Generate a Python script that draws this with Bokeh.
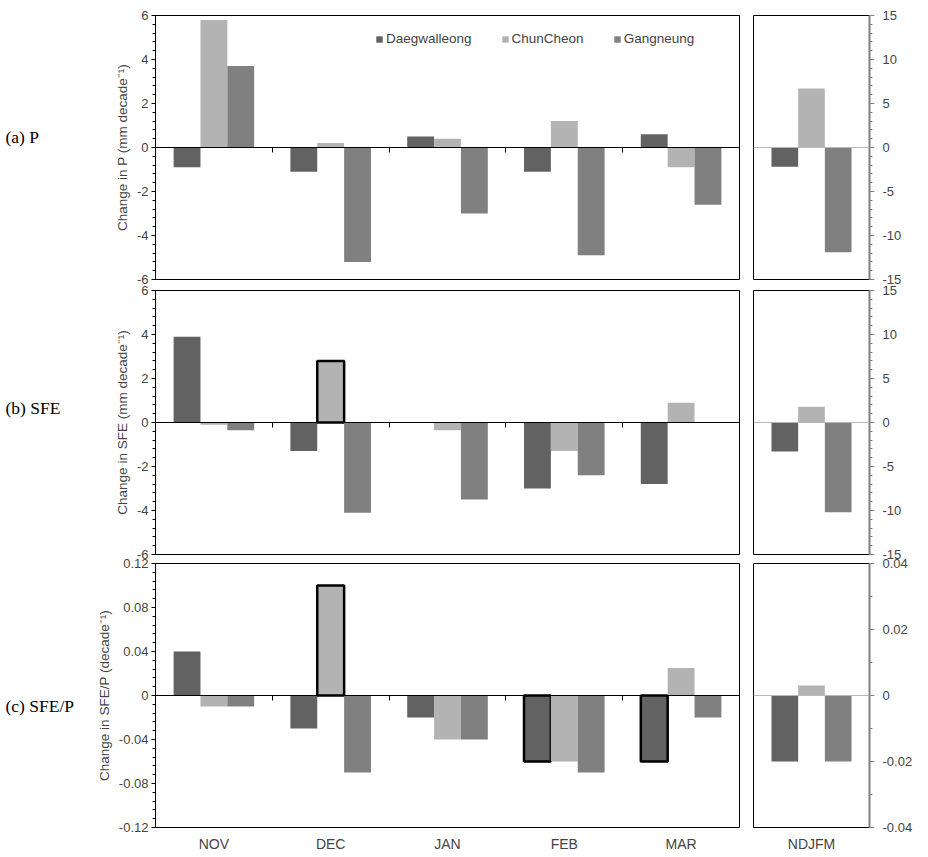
from bokeh.plotting import figure
from bokeh.layouts import row, column
from bokeh.models import (LinearAxis, SingleIntervalTicker, FixedTicker, CustomJSTickFormatter,
                          Legend, LegendItem, Span, Range1d, ColumnDataSource)
from bokeh.core.properties import value
from bokeh.embed import file_html
from bokeh.resources import INLINE

# ---------------- data ----------------
months = ["NOV", "DEC", "JAN", "FEB", "MAR"]
season = ["NDJFM"]
stations = ["Daegwalleong", "ChunCheon", "Gangneung"]
colors = ["#626262", "#b3b3b3", "#808080"]

# (a) P, mm decade-1 ; season on right axis
p_daeg = [-0.9, -1.1, 0.5, -1.1, 0.6]
p_chun = [5.8, 0.2, 0.4, 1.2, -0.9]
p_gang = [3.7, -5.2, -3.0, -4.9, -2.6]
p_season = [-2.2, 6.7, -11.9]

# (b) SFE, mm decade-1
sfe_daeg = [3.9, -1.3, 0.0, -3.0, -2.8]
sfe_chun = [-0.1, 2.8, -0.35, -1.3, 0.9]
sfe_gang = [-0.35, -4.1, -3.5, -2.4, 0.0]
sfe_season = [-3.3, 1.8, -10.2]

# (c) SFE/P, decade-1
ratio_daeg = [0.04, -0.03, -0.02, -0.06, -0.06]
ratio_chun = [-0.01, 0.10, -0.04, -0.06, 0.025]
ratio_gang = [-0.01, -0.07, -0.04, -0.07, -0.02]
ratio_season = [-0.02, 0.003, -0.02]

# bars drawn with a bold outline (1 = outlined)
p_marked = [[0, 0, 0, 0, 0], [0, 0, 0, 0, 0], [0, 0, 0, 0, 0]]
sfe_marked = [[0, 0, 0, 0, 0], [0, 1, 0, 0, 0], [0, 0, 0, 0, 0]]
ratio_marked = [[0, 0, 0, 1, 1], [0, 1, 0, 0, 0], [0, 0, 0, 0, 0]]

panel_names = ["(a) P", "(b) SFE", "(c) SFE/P"]
ylabels = ["Change in P (mm decade\u207b\u00b9)",
           "Change in SFE (mm decade\u207b\u00b9)",
           "Change in SFE/P (decade\u207b\u00b9)"]

FONT = "Liberation Sans"
BAR_W = 0.23
FRAME_H = 264
LABEL_W = 80

fmt = CustomJSTickFormatter(code="return String(Number(tick.toFixed(4)));")
blank = CustomJSTickFormatter(code="return '';")


def style_common(p):
    p.xgrid.visible = False
    p.ygrid.visible = False
    p.outline_line_color = "black"
    p.outline_line_width = 1
    p.outline_line_alpha = 1
    p.background_fill_color = "white"
    p.border_fill_alpha = 0


def name_fig(text, text_y, top, bottom):
    p = figure(frame_width=LABEL_W, frame_height=FRAME_H, x_range=Range1d(0, LABEL_W),
               y_range=Range1d(0, FRAME_H), x_axis_location=None, y_axis_location=None,
               output_backend="svg", toolbar_location=None,
               min_border_left=0, min_border_right=0, min_border_top=top,
               min_border_bottom=bottom)
    p.xgrid.visible = False
    p.ygrid.visible = False
    p.outline_line_color = None
    p.background_fill_alpha = 0
    p.border_fill_alpha = 0
    p.text(x=[5], y=[text_y], text=[text], text_font=value("Liberation Serif"),
           text_font_size="17.5px", text_baseline="middle", text_align="left",
           text_color="black")
    return p


def left_fig(series, marked, lim, interval, ylabel, top, bottom, show_x, legend=False):
    p = figure(frame_width=584, frame_height=FRAME_H, x_range=Range1d(0, len(months)),
               y_range=Range1d(-lim, lim), x_axis_location=None,
               output_backend="svg", toolbar_location=None,
               min_border_left=155 - LABEL_W, min_border_right=7, min_border_top=top,
               min_border_bottom=bottom)
    style_common(p)
    renderers = []
    for k, (vals, col) in enumerate(zip(series, colors)):
        xs = [i + 0.5 + (k - 1) * BAR_W for i in range(len(months))]
        src = ColumnDataSource(dict(x=xs, top=vals))
        r = p.vbar(x="x", top="top", bottom=0, width=BAR_W, source=src,
                   fill_color=col, line_color=None)
        renderers.append(r)
        mx = [x for x, m in zip(xs, marked[k]) if m]
        mt = [v for v, m in zip(vals, marked[k]) if m]
        if mx:
            p.vbar(x=mx, top=mt, bottom=0, width=BAR_W, fill_alpha=0,
                   line_color="black", line_width=2.5)
    ax = p.yaxis[0]
    ax.ticker = SingleIntervalTicker(interval=interval, num_minor_ticks=5)
    ax.formatter = fmt
    ax.axis_label = ylabel
    ax.axis_label_text_font = FONT
    ax.axis_label_text_font_size = "13.5px"
    ax.axis_label_text_font_style = "normal"
    ax.axis_label_standoff = 4
    ax.major_label_text_font = FONT
    ax.major_label_text_font_size = "13px"
    ax.major_label_standoff = 3
    ax.major_tick_in = 0
    ax.major_tick_out = 4
    ax.minor_tick_in = 0
    ax.minor_tick_out = 3
    ax.axis_line_color = "black"
    ax.major_tick_line_color = "black"
    ax.minor_tick_line_color = "black"
    # zero axis with ticks between categories
    zero_axis = LinearAxis(fixed_location=0,
                           ticker=FixedTicker(ticks=list(range(1, len(months)))),
                           formatter=blank, major_tick_in=0, major_tick_out=5,
                           minor_tick_out=0, minor_tick_in=0,
                           axis_line_color="black", major_tick_line_color="black")
    p.add_layout(zero_axis, "below")
    if show_x:
        xa = LinearAxis(ticker=FixedTicker(ticks=[i + 0.5 for i in range(len(months))]),
                        formatter=CustomJSTickFormatter(args=dict(labels=months),
                                                        code="return labels[Math.floor(tick)];"),
                        major_tick_out=0, major_tick_in=0, minor_tick_out=0, minor_tick_in=0,
                        axis_line_color=None, major_label_standoff=8,
                        major_label_text_font=FONT, major_label_text_font_size="14px")
        p.add_layout(xa, "below")
    if legend:
        lg = Legend(items=[LegendItem(label=s, renderers=[r]) for s, r in zip(stations, renderers)],
                    location=(220, 233), orientation="horizontal", border_line_color=None,
                    background_fill_alpha=0, padding=0, margin=0, spacing=29,
                    glyph_width=8, glyph_height=8, label_standoff=3,
                    label_text_font=FONT, label_text_font_size="13.5px")
        p.add_layout(lg)
    return p


def right_fig(vals, lim, interval, minor, top, bottom, show_x):
    p = figure(frame_width=116, frame_height=FRAME_H, x_range=Range1d(0, len(season)),
               y_range=Range1d(-lim, lim), x_axis_location=None, y_axis_location="right",
               output_backend="svg", toolbar_location=None,
               min_border_left=7, min_border_right=41, min_border_top=top,
               min_border_bottom=bottom)
    style_common(p)
    p.add_layout(Span(location=0, dimension="width", line_color="#b8b8b8", line_width=1))
    xs = [0.5 + (k - 1) * BAR_W for k in range(len(stations))]
    p.vbar(x=xs, top=vals, bottom=0, width=BAR_W, fill_color=colors, line_color=None)
    ax = p.yaxis[0]
    ax.ticker = SingleIntervalTicker(interval=interval, num_minor_ticks=minor)
    ax.formatter = fmt
    ax.major_label_text_font = FONT
    ax.major_label_text_font_size = "13px"
    ax.major_label_standoff = 8
    ax.axis_line_color = "#808080"
    ax.axis_line_width = 2
    ax.major_tick_line_color = "#808080"
    ax.minor_tick_line_color = "#808080"
    ax.major_tick_in = 0
    ax.major_tick_out = 5
    ax.minor_tick_in = 0
    ax.minor_tick_out = 3
    if show_x:
        xa = LinearAxis(ticker=FixedTicker(ticks=[0.5]),
                        formatter=CustomJSTickFormatter(args=dict(labels=season),
                                                        code="return labels[Math.floor(tick)];"),
                        major_tick_out=0, major_tick_in=0, minor_tick_out=0, minor_tick_in=0,
                        axis_line_color=None, major_label_standoff=8,
                        major_label_text_font=FONT, major_label_text_font_size="14px")
        p.add_layout(xa, "below")
    return p


# row borders (top, bottom); rows overlap through transparent borders
ra = (15, 14)
rb = (14, 14)
rc = (14, 22)

pa_n = name_fig(panel_names[0], 143, *ra)
pa = left_fig([p_daeg, p_chun, p_gang], p_marked, 6, 2, ylabels[0], *ra, False, legend=True)
pa_r = right_fig(p_season, 15, 5, 5, *ra, False)

pb_n = name_fig(panel_names[1], 147, *rb)
pb = left_fig([sfe_daeg, sfe_chun, sfe_gang], sfe_marked, 6, 2, ylabels[1], *rb, False)
pb_r = right_fig(sfe_season, 15, 5, 5, *rb, False)

pc_n = name_fig(panel_names[2], 122, *rc)
pc = left_fig([ratio_daeg, ratio_chun, ratio_gang], ratio_marked, 0.12, 0.04, ylabels[2], *rc, True)
pc_r = right_fig(ratio_season, 0.04, 0.02, 2, *rc, True)

row_a = row(pa_n, pa, pa_r)
row_b = row(pb_n, pb, pb_r, styles={"margin-top": "-17px"})
row_c = row(pc_n, pc, pc_r, styles={"margin-top": "-19px"})
layout = column(row_a, row_b, row_c)

with open("out.html", "w") as f:
    f.write(file_html(layout, INLINE))
